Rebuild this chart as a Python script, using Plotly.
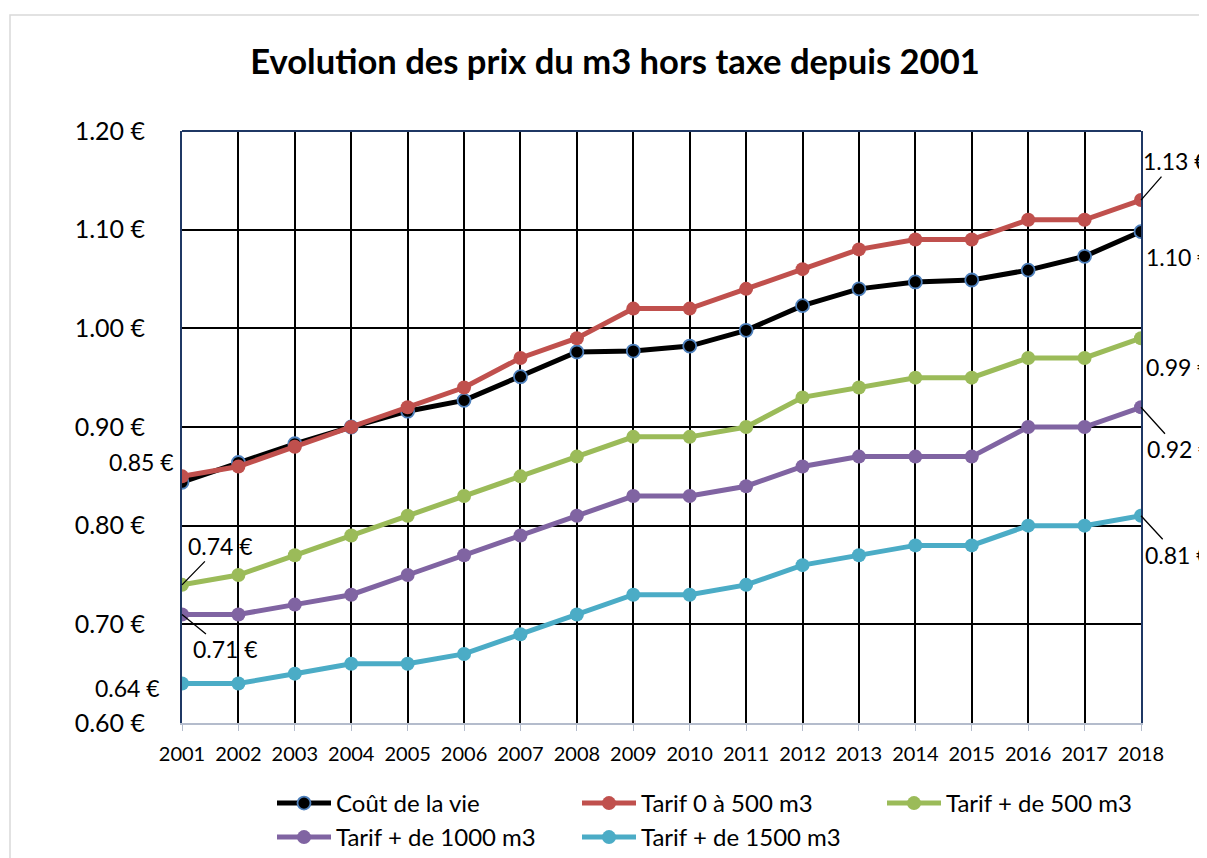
import plotly.graph_objects as go

years = list(range(2001, 2019))
cout_vie = [0.844, 0.864, 0.883, 0.900, 0.916, 0.927, 0.951, 0.976, 0.977, 0.982,
            0.998, 1.023, 1.040, 1.047, 1.049, 1.059, 1.073, 1.098]
tarif_0_500 = [0.85, 0.86, 0.88, 0.90, 0.92, 0.94, 0.97, 0.99, 1.02, 1.02,
               1.04, 1.06, 1.08, 1.09, 1.09, 1.11, 1.11, 1.13]
tarif_500 = [0.74, 0.75, 0.77, 0.79, 0.81, 0.83, 0.85, 0.87, 0.89, 0.89,
             0.90, 0.93, 0.94, 0.95, 0.95, 0.97, 0.97, 0.99]
tarif_1000 = [0.71, 0.71, 0.72, 0.73, 0.75, 0.77, 0.79, 0.81, 0.83, 0.83,
              0.84, 0.86, 0.87, 0.87, 0.87, 0.90, 0.90, 0.92]
tarif_1500 = [0.64, 0.64, 0.65, 0.66, 0.66, 0.67, 0.69, 0.71, 0.73, 0.73,
              0.74, 0.76, 0.77, 0.78, 0.78, 0.80, 0.80, 0.81]
series_names = ["Coût de la vie", "Tarif 0 à 500 m3", "Tarif + de 500 m3",
                "Tarif + de 1000 m3", "Tarif + de 1500 m3"]
y_ticks = [0.60, 0.70, 0.80, 0.90, 1.00, 1.10, 1.20]
title_text = "Evolution des prix du m3 hors taxe depuis 2001"

FONT = "Lato"
colors = ["#000000", "#C0504D", "#9BBB59", "#8064A2", "#4BACC6"]
all_series = [cout_vie, tarif_0_500, tarif_500, tarif_1000, tarif_1500]
legend_rows = ["legend", "legend", "legend", "legend2", "legend2"]

fig = go.Figure()
for i, (name, vals, col) in enumerate(zip(series_names, all_series, colors)):
    if i == 0:
        marker = dict(size=13, color="#000000", line=dict(color="#4F81BD", width=1.8))
    else:
        marker = dict(size=14, color=col, line=dict(width=0))
    fig.add_trace(go.Scatter(x=years, y=vals, name=name, mode="lines+markers",
                             line=dict(color=col, width=5), marker=marker,
                             legend=legend_rows[i]))

# data labels: (series index, point index, ax, ay, show arrow, xshift, yshift, xanchor)
label_specs = [
    (1, 0, None, None, False, -6, 14, "right"),
    (4, 0, None, None, False, -20, -4, "right"),
    (2, 0, 38, -39, True, 0, 0, "center"),
    (3, 0, 43, 35, True, 0, 0, "center"),
    (1, -1, 34, -39, True, 0, 0, "center"),
    (0, -1, None, None, False, 3, -25, "left"),
    (2, -1, None, None, False, 3, -29, "left"),
    (3, -1, 38, 42, True, 0, 0, "center"),
    (4, -1, 36, 39, True, 0, 0, "center"),
]
annotations = []
for si, pi, ax, ay, arrow, xs, ys, xa in label_specs:
    v = all_series[si][pi]
    a = dict(x=years[pi], y=v, xref="x", yref="y", text=f"{v:.2f} €",
             font=dict(family=FONT, size=23, color="#000000"))
    if arrow:
        a.update(showarrow=True, ax=ax, ay=ay, arrowhead=0, arrowwidth=1.3,
                 arrowcolor="#000000", standoff=0)
    else:
        a.update(showarrow=False, xshift=xs, yshift=ys, xanchor=xa)
    annotations.append(a)

# page has an 8px body margin; figure coordinates = page coordinates - 8
OFF = 8
W, H = 1207 - OFF, 858 - OFF
L, T = 182 - OFF, 131 - OFF
R = W - (1141 - OFF)
B = H - (723 - OFF)
pw, ph = W - L - R, H - T - B

shapes = [
    dict(type="rect", xref="paper", yref="paper",
         x0=((10 - OFF) - L) / pw, x1=((W + 20) - L) / pw,
         y0=-((H + 20) - (H - B)) / ph, y1=1 + (T - (15 - OFF)) / ph,
         line=dict(color="#D9D9D9", width=1.5), layer="below"),
    dict(type="line", xref="paper", yref="paper", x0=0, x1=1, y0=1, y1=1,
         line=dict(color="#1F3864", width=2)),
]

leg_common = dict(orientation="h", xanchor="left", yanchor="top",
                  font=dict(family=FONT, size=24, color="#000000"),
                  entrywidth=236, entrywidthmode="pixels", itemwidth=54,
                  bgcolor="rgba(0,0,0,0)")
leg_x = ((272 - OFF) - L) / pw
fig.update_layout(
    width=W, height=H,
    margin=dict(l=L, r=R, t=T, b=B, autoexpand=False),
    paper_bgcolor="#FFFFFF", plot_bgcolor="#FFFFFF",
    title=dict(text=title_text, x=(615 - OFF) / W, xref="container", xanchor="center",
               y=1 - (62 - OFF) / H, yref="container", yanchor="middle",
               font=dict(family=FONT, size=34.6, color="#000000", weight="bold")),
    font=dict(family=FONT, color="#000000"),
    showlegend=True,
    legend=dict(x=leg_x, y=-((781 - OFF) - (T + ph)) / ph, **leg_common),
    legend2=dict(x=leg_x, y=-((815 - OFF) - (T + ph)) / ph, **leg_common),
    annotations=annotations,
    shapes=shapes,
)
fig.update_xaxes(range=[years[0], years[-1]], tickvals=years,
                 ticktext=[str(y) for y in years],
                 showgrid=True, gridcolor="#000000", gridwidth=1.6,
                 showline=True, linecolor="#B4BCCC", linewidth=2,
                 ticks="outside", ticklen=6, tickcolor="#B4BCCC", tickwidth=1,
                 ticklabelstandoff=6,
                 tickfont=dict(family=FONT, size=20, color="#000000"),
                 zeroline=False, fixedrange=True)
fig.update_yaxes(range=[y_ticks[0], y_ticks[-1]], tickvals=y_ticks,
                 ticktext=[f"{v:.2f} €" for v in y_ticks],
                 showgrid=True, gridcolor="#000000", gridwidth=1.6,
                 showline=True, linecolor="#1F3864", linewidth=2, mirror=True,
                 ticks="", ticklabelstandoff=30,
                 tickfont=dict(family=FONT, size=25, color="#000000"),
                 zeroline=False, fixedrange=True)

fig.write_html("out.html")
